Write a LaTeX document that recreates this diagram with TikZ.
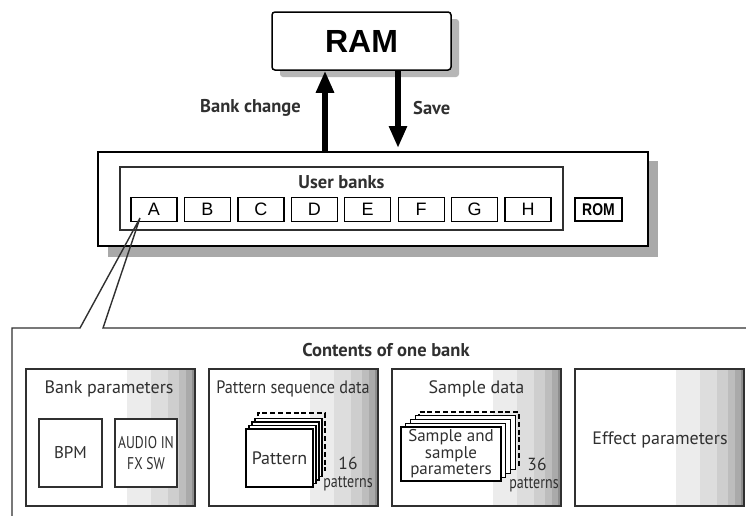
\documentclass[tikz,border=0pt]{standalone}
\usepackage{fontspec}
\usepackage{graphicx}
\setmainfont{PT Sans}
\newfontfamily\helv{Liberation Sans}
\usetikzlibrary{arrows.meta}
\definecolor{txt}{HTML}{303030}
\definecolor{edge}{HTML}{303030}
\definecolor{bandA}{HTML}{ECECEC}
\definecolor{bandB}{HTML}{DDDDDD}
\definecolor{bandC}{HTML}{CECECE}
\definecolor{bandD}{HTML}{BDBDBD}
\definecolor{bandE}{HTML}{AAAAAA}
\definecolor{bandF}{HTML}{8E8E8E}
\definecolor{shadowgrey}{HTML}{A9A9A9}
\tikzset{
  bankbox/.style={draw=black, line width=1.3pt, minimum width=46pt, minimum height=24pt, inner sep=0pt, font=\helv\fontsize{18}{18}\selectfont},
  rombox/.style={draw=black, line width=1.3pt, minimum width=47pt, minimum height=23pt, inner sep=0pt, font=\helv\bfseries\fontsize{17}{17}\selectfont},
  boldlbl/.style={inner sep=0pt, text=txt, font=\bfseries\fontsize{18.5}{18.5}\selectfont},
  boxlbl/.style={inner sep=0pt, text=txt, font=\fontsize{18}{18}\selectfont},
  smalllbl/.style={inner sep=0pt, text=txt, font=\fontsize{17.5}{18}\selectfont, align=center},
  bandbox/.style={draw=edge, line width=1.3pt, minimum width=169pt, minimum height=137pt, inner sep=0pt,
    path picture={
      \fill[bandA] ([xshift=-68pt]path picture bounding box.north east) rectangle (path picture bounding box.south east);
      \fill[bandB] ([xshift=-44pt]path picture bounding box.north east) rectangle (path picture bounding box.south east);
      \fill[bandC] ([xshift=-27pt]path picture bounding box.north east) rectangle (path picture bounding box.south east);
      \fill[bandD] ([xshift=-16pt]path picture bounding box.north east) rectangle (path picture bounding box.south east);
      \fill[bandE] ([xshift=-9pt]path picture bounding box.north east) rectangle (path picture bounding box.south east);
      \fill[bandF] ([xshift=-3pt]path picture bounding box.north east) rectangle (path picture bounding box.south east);
    }},
  innerbox/.style={draw=edge, line width=1.3pt, fill=white, inner sep=0pt, text=txt},
  sheet/.style={draw=black, line width=1.1pt, fill=white, inner sep=0pt},
  backdash/.style={draw=black, line width=1.4pt, dash pattern=on 5pt off 2.8pt},
  bigarrow/.style={line width=6.5pt, -{Triangle[width=17pt,length=22pt]}},
}
\begin{document}
\begin{tikzpicture}[x=1pt,y=-1pt]
\useasboundingbox (0,0) rectangle (746,515);
\fill[white] (0,0) rectangle (746,515);

% RAM
\fill[shadowgrey!85, rounded corners=3pt] (280,19) rectangle (459,77);
\node[draw=black, line width=1.5pt, fill=white, rounded corners=3pt, minimum width=179pt, minimum height=58pt, inner sep=0pt,
      font=\helv\bfseries\fontsize{32}{32}\selectfont] (ram) at (361.5,41) {RAM};

% main box
\fill[shadowgrey] (108,161) rectangle (658,257);
\node[draw=black, line width=2.4pt, fill=white, minimum width=550pt, minimum height=94pt, inner sep=0pt] (mainbox) at (373,199) {};
\node[draw=edge, line width=1.2pt, minimum width=443pt, minimum height=63pt, inner sep=0pt] (userbanks) at (341.5,198.5) {};
\node[boldlbl] (userlbl) at (341.5,182) {User banks};
\foreach \l [count=\i from 0] in {A,B,C,D,E,F,G,H}{
  \node[bankbox] (bank\l) at ({154+53.43*\i},209.5) {\l};
}
\node[rombox] (rom) at (598.5,209.5) {\scalebox{0.82}[1]{ROM}};

% arrows
\coordinate (upx) at (325,0);
\coordinate (downx) at (398,0);
\coordinate (downend) at (398,148);
\draw[bigarrow] (upx |- mainbox.north) -- (upx |- ram.south);
\draw[bigarrow] (downx |- ram.south) -- (downend);
\node[boldlbl, anchor=east] (bclbl) at (301,108) {Bank change};
\node[boldlbl, anchor=west] (savelbl) at (413,108) {Save};

% contents outline with callout
\coordinate (calltip) at (140,218);
\coordinate (cl) at (80,328);
\coordinate (cr) at (103,328);
\draw[draw=edge, line width=1.4pt, line join=miter] (12,520) -- (12,328) -- (cl) -- (calltip) -- (cr) -- (750,328);
\node[boldlbl] (contlbl) at (386,350) {Contents of one bank};

% four boxes
\node[bandbox] (bankpar) at (110.5,437.5) {};
\node[bandbox] (patseq) at (293.5,437.5) {};
\node[bandbox] (sampdat) at (476.5,437.5) {};
\node[bandbox] (effpar) at (659.5,437.5) {};
\node[boxlbl] (bplbl) at (109,389) {Bank parameters};
\node[boxlbl] (pslbl) at (293,389) {\scalebox{0.9}[1]{Pattern sequence data}};
\node[boxlbl] (sdlbl) at (476.5,389) {Sample data};
\node[boxlbl] (eplbl) at (660,440) {Effect parameters};

% bank parameters content
\node[innerbox, minimum width=63pt, minimum height=68pt, font=\fontsize{17}{17}\selectfont] (bpm) at (70.5,453) {BPM};
\node[innerbox, minimum width=62pt, minimum height=68pt, font=\fontsize{17}{21}\selectfont, align=center] (audio) at (146,453)
  {\scalebox{0.8}[1]{AUDIO IN}\\\scalebox{0.8}[1]{FX SW}};

% pattern stack
\draw[backdash] (258,471) -- (258,413) -- (325,413) -- (325,471);
\foreach \k in {3,2,1}{
  \node[sheet, minimum width=67pt, minimum height=58pt] (psheet\k) at ({279.5+3*\k},{458-3.5*\k}) {};
}
\node[sheet, minimum width=67pt, minimum height=58pt, text=txt, font=\fontsize{18}{18}\selectfont] (pattern) at (279.5,458) {Pattern};
\node[smalllbl] (n16) at (348,474) {16\\\scalebox{0.8}[1]{patterns}};

% sample stack
\draw[backdash] (419,466) -- (419,412) -- (519,412) -- (519,466);
\foreach \k in {3,2,1}{
  \node[sheet, minimum width=100pt, minimum height=54pt] (ssheet\k) at ({451+4.7*\k},{454-3.8*\k}) {};
}
\node[sheet, minimum width=100pt, minimum height=54pt, text=txt, font=\fontsize{17}{16.5}\selectfont, align=center] (sample) at (451,454)
  {Sample and\\sample\\parameters};
\node[smalllbl] (n36) at (534,475) {\hspace*{6pt}36\\\scalebox{0.8}[1]{patterns}};
\end{tikzpicture}
\end{document}
